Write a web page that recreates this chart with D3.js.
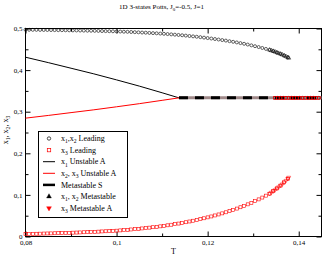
<!DOCTYPE html>
<html>
<head>
<meta charset="utf-8">
<script src="https://cdn.jsdelivr.net/npm/d3@7"></script>
<style>
body { margin:0; background:#fff; }
text { font-family:"Liberation Serif","Times New Roman",serif; fill:#000; }
</style>
</head>
<body>
<script>
// leading (ordered) branch
var tLead = [0.08,0.0808,0.0816,0.0824,0.0832,0.084,0.0848,0.0856,0.0864,0.0872,
	0.088,0.0888,0.0896,0.0904,0.0912,0.092,0.0928,0.0936,0.0944,0.0952,
	0.096,0.0968,0.0976,0.0984,0.0992,0.1,0.1008,0.1016,0.1024,0.1032,
	0.104,0.1048,0.1056,0.1064,0.1072,0.108,0.1088,0.1096,0.1104,0.1112,
	0.112,0.1128,0.1136,0.1144,0.1152,0.116,0.1168,0.1176,0.1184,0.1192,
	0.12,0.1208,0.1216,0.1224,0.1232,0.124,0.1248,0.1256,0.1264,0.1272,
	0.128,0.1288,0.1296,0.1304,0.1312,0.132,0.1328,0.1336,0.1344,0.1352,
	0.136,0.1368,0.1376];
var x12Lead = [0.497,0.4969,0.4968,0.4967,0.4966,0.4965,0.4964,0.4963,0.4961,0.496,
	0.4959,0.4957,0.4956,0.4954,0.4953,0.4951,0.4949,0.4947,0.4946,0.4944,
	0.4942,0.4939,0.4937,0.4935,0.4933,0.493,0.4927,0.4923,0.492,0.4916,
	0.4912,0.4908,0.4903,0.4899,0.4894,0.4889,0.4884,0.4878,0.4872,0.4866,
	0.4859,0.4852,0.4845,0.4837,0.4829,0.482,0.4811,0.4802,0.4792,0.4781,
	0.477,0.4759,0.4747,0.4735,0.4722,0.4709,0.4695,0.468,0.4665,0.4649,
	0.4632,0.4614,0.4595,0.4575,0.4554,0.4532,0.4509,0.4485,0.4455,0.4422,
	0.4388,0.4349,0.4305];
var x3Lead = [0.006,0.0062,0.0064,0.0066,0.0068,0.0071,0.0073,0.0075,0.0078,0.008,
	0.0083,0.0086,0.0089,0.0092,0.0095,0.0098,0.0102,0.0106,0.0109,0.0113,
	0.0117,0.0122,0.0126,0.013,0.0135,0.014,0.0147,0.0154,0.0161,0.0169,
	0.0177,0.0185,0.0194,0.0203,0.0213,0.0223,0.0233,0.0244,0.0256,0.0269,
	0.0283,0.0297,0.0311,0.0327,0.0343,0.0361,0.0379,0.0397,0.0417,0.0438,
	0.046,0.0482,0.0506,0.053,0.0556,0.0582,0.061,0.064,0.0671,0.0703,
	0.0737,0.0773,0.081,0.085,0.0892,0.0936,0.0982,0.103,0.1091,0.1156,
	0.1224,0.1302,0.139];

// leading (symmetric) branch, x1 = x2 = x3
var tSym = [0.1348,0.1354,0.136,0.1366,0.1372,0.1378,0.1384,0.139,0.1396,0.1402,
	0.1408,0.1414,0.142,0.1426,0.1432,0.1438,0.1444];
var xSym = [0.3333,0.3333,0.3333,0.3333,0.3333,0.3333,0.3333,0.3333,0.3333,0.3333,
	0.3333,0.3333,0.3333,0.3333,0.3333,0.3333,0.3333];

// unstable A
var tUnst = [0.08,0.085,0.09,0.095,0.1,0.105,0.11,0.1137];
var x1Unst = [0.431,0.418,0.4045,0.391,0.3765,0.3615,0.3455,0.3333];
var x23Unst = [0.2845,0.291,0.2978,0.3045,0.3118,0.3193,0.3273,0.3333];

// metastable S
var tMetaS = [0.1137,0.145];
var xMetaS = [0.3333,0.3333];

// metastable A
var tMeta = [0.1336,0.134,0.1344,0.1348,0.1352,0.1356,0.136,0.1364,0.1368,0.1372,0.1376,0.1378];
var x12Meta = [0.4485,0.447,0.4455,0.444,0.4422,0.4405,0.4388,0.437,0.4349,0.4328,0.4305,0.429];
var x3Meta = [0.103,0.106,0.1091,0.112,0.1156,0.119,0.1224,0.126,0.1302,0.1345,0.139,0.142];

var xMajor = [0.08,0.1,0.12,0.14];
var xMinor = [0.09,0.11,0.13];
var yMajor = [0,0.1,0.2,0.3,0.4,0.5];
var yMinor = [0.05,0.15,0.25,0.35,0.45];

var legendLabels = ["x{1},x{2} Leading","x{3} Leading","x{1} Unstable A","x{2}, x{3} Unstable A",
	"Metastable S","x{1}, x{2} Metastable","x{3} Metastable A"];

var W = 323, H = 255;
var padL = 25.5, padR = 321.5, padT = 28.5, padB = 236.5;

var svg = d3.select("body").append("svg")
	.attr("width", W)
	.attr("height", H);

var x = d3.scaleLinear().domain([0.08, 0.145]).range([padL, padR]);
var y = d3.scaleLinear().domain([0, 0.5]).range([padB, padT]);

// text with subscripts written as {n}
function rich(sel, str, fs) {
	var re = /([^{]+)|\{([^}]*)\}/g, m, sub = false;
	while ((m = re.exec(str))) {
		if (m[1] !== undefined) {
			sel.append("tspan").attr("dy", sub ? -fs*0.28 : 0).text(m[1]);
			sub = false;
		} else {
			sel.append("tspan").attr("dy", sub ? 0 : fs*0.28)
				.style("font-size", (fs*0.7)+"px").text(m[2]);
			sub = true;
		}
	}
	return sel;
}

function fmt(d) { return String(d).replace(".", ","); }

// axes, ticks pointing inward on all four sides
function drawAxis(gen, tr, vals, size, labels, pad) {
	var g = svg.append("g")
		.attr("transform", tr)
		.call(gen.tickValues(vals).tickSizeInner(-size).tickSizeOuter(0).tickPadding(pad || 3)
			.tickFormat(labels ? fmt : ""));
	g.select(".domain").remove();
	g.selectAll("line").attr("stroke", "#000");
	g.selectAll("text").style("font-size", "7px").style("font-family", "Liberation Serif, serif");
	return g;
}
drawAxis(d3.axisBottom(x), "translate(0," + padB + ")", xMajor, 5, true, 3.5);
drawAxis(d3.axisBottom(x), "translate(0," + padB + ")", xMinor, 3, false);
drawAxis(d3.axisTop(x), "translate(0," + padT + ")", xMajor, 5, false);
drawAxis(d3.axisTop(x), "translate(0," + padT + ")", xMinor, 3, false);
drawAxis(d3.axisLeft(y), "translate(" + padL + ",0)", yMajor, 5, true);
drawAxis(d3.axisLeft(y), "translate(" + padL + ",0)", yMinor, 3, false);
drawAxis(d3.axisRight(y), "translate(" + padR + ",0)", yMajor, 5, false);
drawAxis(d3.axisRight(y), "translate(" + padR + ",0)", yMinor, 3, false);

svg.append("rect")
	.attr("x", padL).attr("y", padT)
	.attr("width", padR - padL).attr("height", padB - padT)
	.attr("fill", "none").attr("stroke", "#000").attr("stroke-width", 1);

// titles
rich(svg.append("text").attr("x", 161.5).attr("y", 9).attr("text-anchor", "middle")
	.style("font-size", "7px"), "1D 3-states Potts, J{0}=-0.5, J=1", 7);
svg.append("text").attr("x", 173.5).attr("y", 253.5).attr("text-anchor", "middle")
	.style("font-size", "8px").text("T");
rich(svg.append("text").attr("transform", "translate(8,130) rotate(-90)")
	.attr("text-anchor", "middle").style("font-size", "8px"), "x{1}, x{2}, x{3}", 8);

var line = d3.line().x(function(d){ return x(d[0]); }).y(function(d){ return y(d[1]); });
function pts(ts, vs) { return ts.map(function(t, i){ return [t, vs[i]]; }); }

// unstable A lines
svg.append("path").datum(pts(tUnst, x1Unst)).attr("d", line)
	.attr("fill", "none").attr("stroke", "#000").attr("stroke-width", 1);
svg.append("path").datum(pts(tUnst, x23Unst)).attr("d", line)
	.attr("fill", "none").attr("stroke", "#f00").attr("stroke-width", 1);

// metastable S: thick dashed
svg.append("path").datum(pts(tMetaS, xMetaS)).attr("d", line)
	.attr("fill", "none").attr("stroke", "#a08a8a").attr("stroke-width", 3);
svg.append("path").datum(pts(tMetaS, xMetaS)).attr("d", line)
	.attr("fill", "none").attr("stroke", "#000").attr("stroke-width", 3)
	.attr("stroke-dasharray", "9,7");

var tri = d3.symbol().type(d3.symbolTriangle).size(7);
var triLg = d3.symbol().type(d3.symbolTriangle).size(10);

function circles(data) {
	svg.append("g").selectAll("circle").data(data).enter().append("circle")
		.attr("cx", function(d){ return x(d[0]); })
		.attr("cy", function(d){ return y(d[1]); })
		.attr("r", 1.5)
		.attr("fill", "none").attr("stroke", "#000").attr("stroke-width", 0.6);
}
function squares(data) {
	svg.append("g").selectAll("rect").data(data).enter().append("rect")
		.attr("x", function(d){ return x(d[0]) - 1.5; })
		.attr("y", function(d){ return y(d[1]) - 1.5; })
		.attr("width", 3).attr("height", 3)
		.attr("fill", "none").attr("stroke", "#f00").attr("stroke-width", 0.6);
}
function triangles(data, col, down) {
	svg.append("g").selectAll("path").data(data).enter().append("path")
		.attr("d", tri)
		.attr("transform", function(d){
			return "translate(" + x(d[0]) + "," + y(d[1]) + ")" + (down ? " rotate(180)" : ""); })
		.attr("fill", "none").attr("stroke", col).attr("stroke-width", 0.5);
}

circles(pts(tLead, x12Lead));
circles(pts(tSym, xSym));
squares(pts(tLead, x3Lead));
squares(pts(tSym, xSym));
triangles(pts(tMeta, x12Meta), "#000", false);
triangles(pts(tMeta, x3Meta), "#f00", true);

// legend
var lg = svg.append("g");
lg.append("rect").attr("x", 38.5).attr("y", 131.5).attr("width", 89).attr("height", 86)
	.attr("fill", "#fff").attr("stroke", "#000").attr("stroke-width", 1);

legendLabels.forEach(function(lab, i) {
	var cy = 138.5 + i*11.6, sx = 49;
	if (i == 0) lg.append("circle").attr("cx", sx).attr("cy", cy).attr("r", 1.7)
		.attr("fill", "none").attr("stroke", "#000").attr("stroke-width", 0.7);
	if (i == 1) lg.append("rect").attr("x", sx-1.7).attr("y", cy-1.7).attr("width", 3.4).attr("height", 3.4)
		.attr("fill", "none").attr("stroke", "#f00").attr("stroke-width", 0.7);
	if (i == 2 || i == 3 || i == 4) lg.append("line").attr("x1", 43).attr("x2", 55)
		.attr("y1", cy).attr("y2", cy)
		.attr("stroke", i == 3 ? "#f00" : "#000").attr("stroke-width", i == 4 ? 2.5 : 1);
	if (i == 5) lg.append("path").attr("d", triLg).attr("transform", "translate(" + sx + "," + cy + ")")
		.attr("fill", "#000").attr("stroke", "#000").attr("stroke-width", 0.4);
	if (i == 6) lg.append("path").attr("d", triLg).attr("transform", "translate(" + sx + "," + cy + ") rotate(180)")
		.attr("fill", "#f00").attr("stroke", "#f00").attr("stroke-width", 0.4);
	rich(lg.append("text").attr("x", 61).attr("y", cy + 2.7).style("font-size", "8px"), lab, 8);
});
</script>
</body>
</html>
